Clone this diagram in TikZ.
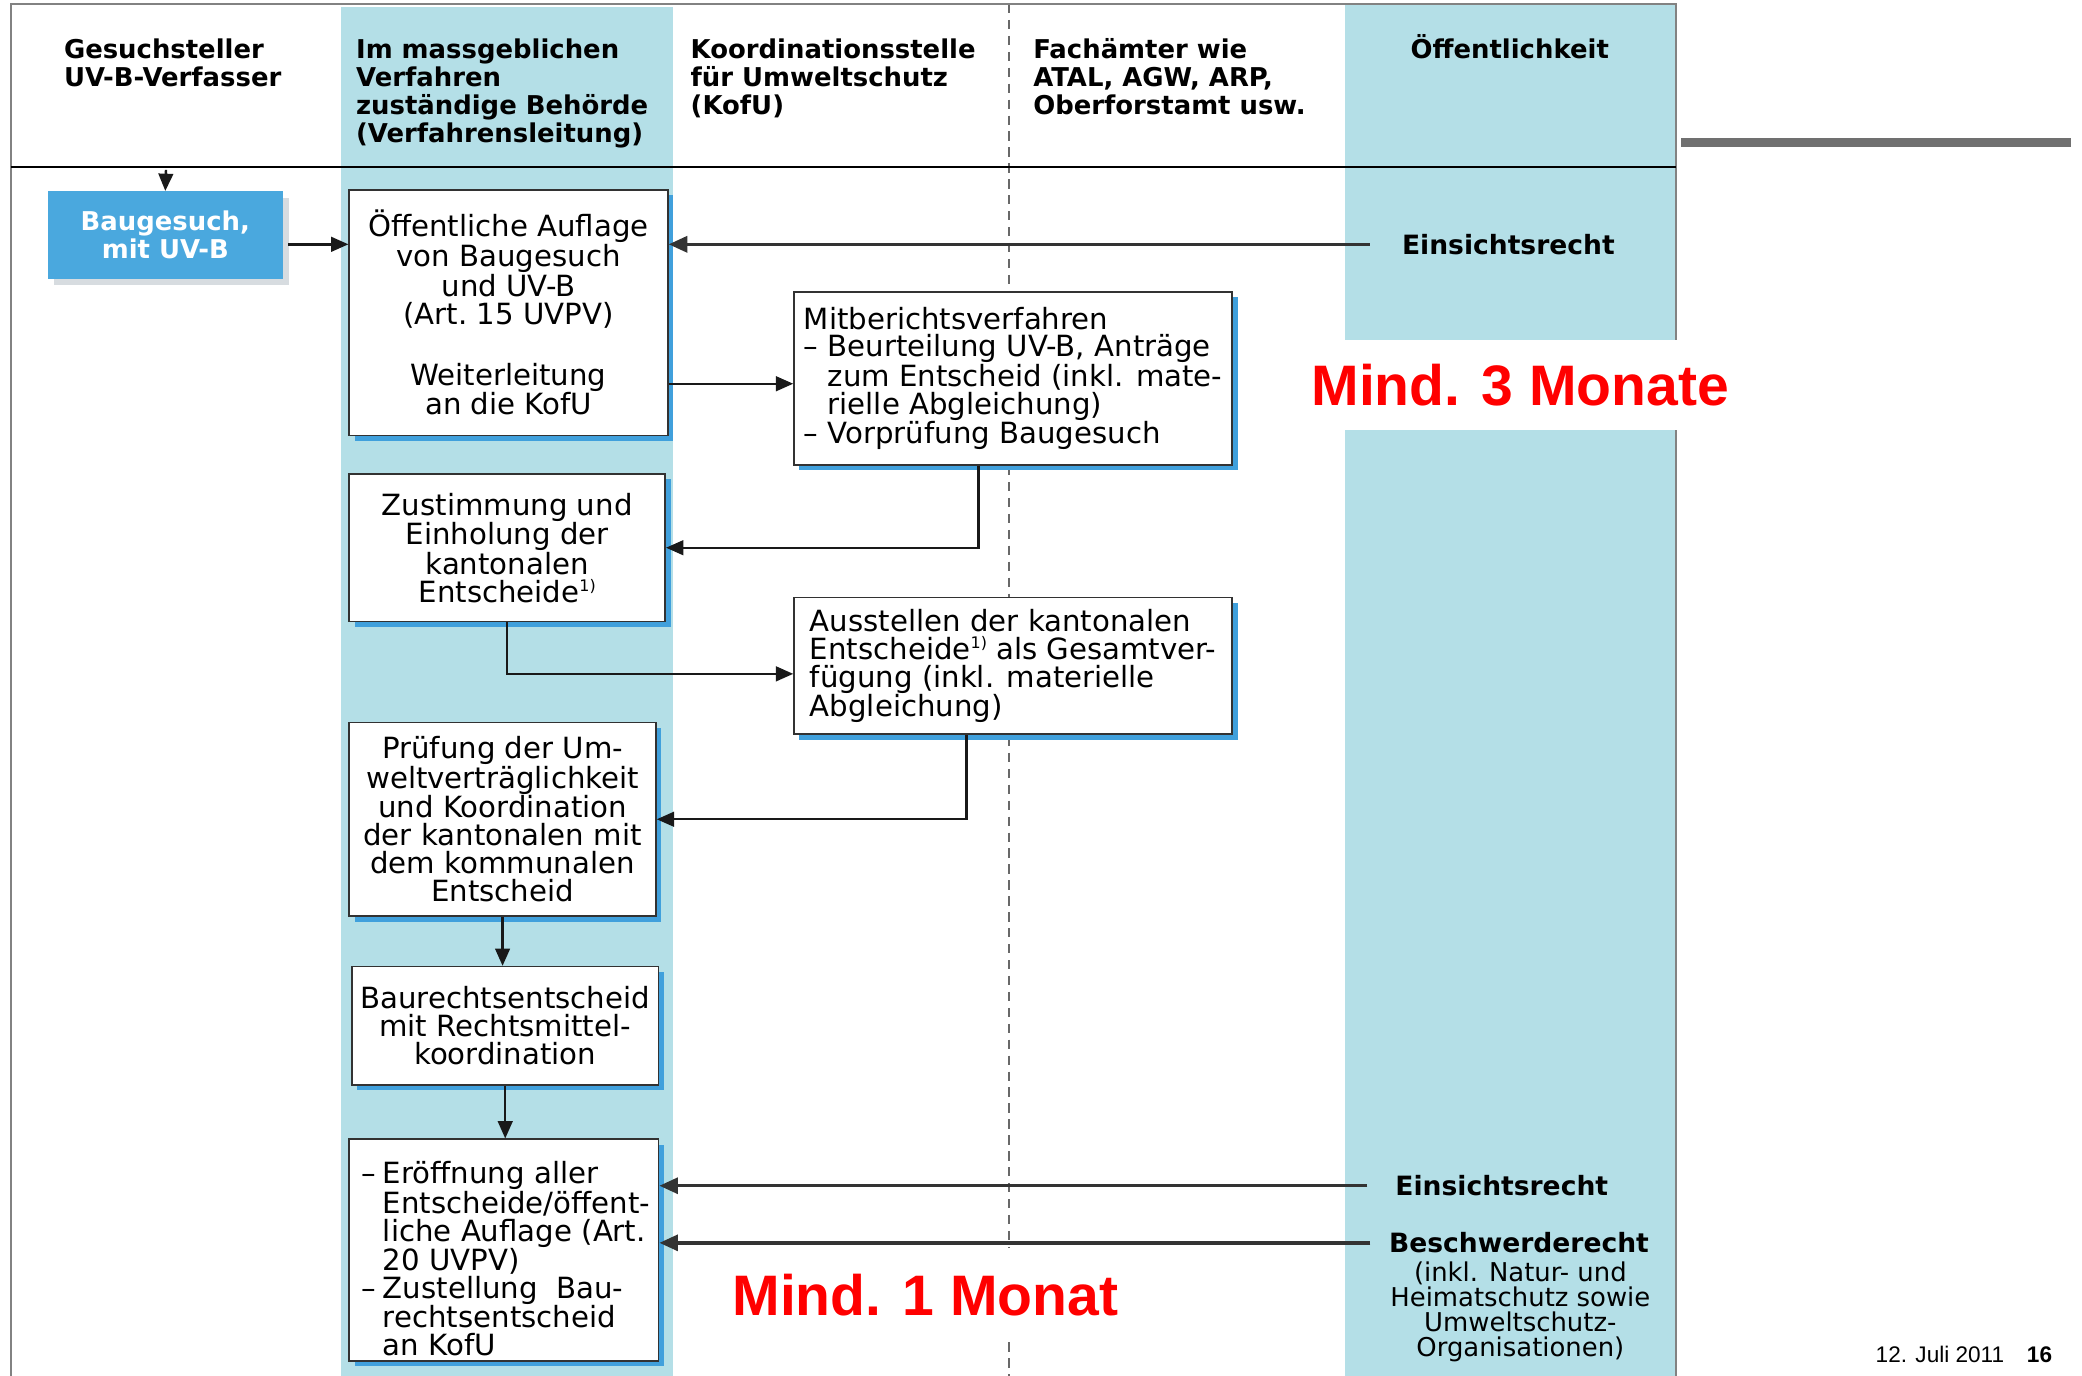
\documentclass[tikz,border=0pt]{standalone}
\usepackage{fontspec}
\setmainfont{DejaVu Sans}
\newfontfamily\arialf{Liberation Sans}
\usetikzlibrary{arrows.meta,shadows,calc}
\definecolor{colblue}{RGB}{180,223,231}
\definecolor{shblue}{RGB}{64,160,220}
\definecolor{bgblue}{RGB}{74,168,222}
\definecolor{framegray}{RGB}{130,130,130}
\definecolor{boxline}{RGB}{50,50,50}
\definecolor{barg}{RGB}{112,112,112}
\definecolor{mred}{RGB}{255,0,0}
\definecolor{lightsh}{RGB}{215,220,224}
\newcommand{\bodyfont}{\fontsize{22}{21}\selectfont}
\newcommand{\headfont}{\fontsize{19.5}{21}\selectfont\bfseries}
\newcommand{\supone}{\raisebox{8pt}{\fontsize{12}{12}\selectfont 1)}}
\tikzset{
 flowbox/.style={draw=boxline, line width=1.2pt, fill=white, font=\bodyfont, inner sep=0pt,
   drop shadow={shadow xshift=4pt, shadow yshift=-4pt, fill=shblue, opacity=1}},
 conn/.style={draw=black!90, line width=1.8pt, -{Triangle[length=13pt,width=11pt]}},
 rightline/.style={draw=black!80, line width=2.6pt, -{Triangle[length=14pt,width=12pt]}},
 headtext/.style={font=\headfont, align=left, inner sep=0pt, anchor=north west},
 redtext/.style={font=\arialf\fontsize{43}{43}\selectfont\bfseries, text=mred, fill=white, inner xsep=4pt},
 righttext/.style={font=\fontsize{20}{20}\selectfont\bfseries, inner sep=0pt}
}
\begin{document}
\begin{tikzpicture}[x=1pt,y=-1pt]
\useasboundingbox (0,0) rectangle (1568,1036);
\fill[white] (0,0) rectangle (1568,1036);
% columns
\fill[colblue] (257,5) rectangle (507,1036);
\fill[colblue] (1013,3) rectangle (1262,1036);
\draw[framegray!80!black, line width=1.2pt, dash pattern=on 7pt off 5pt] (760,3) -- (760,1036);
\draw[framegray, line width=1.5pt] (8,1036) -- (8,3) -- (1262,3) -- (1262,1036);
\draw[black, line width=1.6pt] (8,126) -- (1262,126);
\fill[barg] (1266,104) rectangle (1560,111);
% headers
\node[headtext] (h1) at (48,29) {Gesuchsteller\\UV-B-Verfasser};
\node[headtext] (h2) at (268,29) {Im massgeblichen\\Verfahren\\zuständige Behörde\\(Verfahrensleitung)};
\node[headtext] (h3) at (520,29) {Koordinationsstelle\\für Umweltschutz\\(KofU)};
\node[headtext] (h4) at (778,29) {Fachämter wie\\ATAL, AGW, ARP,\\Oberforstamt usw.};
\node[font=\headfont, inner sep=0pt, anchor=base] (h5) at (1137,44) {Öffentlichkeit};
% boxes
\node[draw=none, fill=bgblue, minimum width=177pt, minimum height=66pt, inner sep=0pt,
  text=white, font=\headfont, align=center,
  drop shadow={shadow xshift=5pt, shadow yshift=-5pt, fill=lightsh, opacity=1}] (BG) at (124.5,177) {Baugesuch,\\mit UV-B};
\node[flowbox, align=center, minimum width=240pt, minimum height=185pt] (A) at (383,235.5)
  {Öffentliche Auflage\\von Baugesuch\\und UV-B\\(Art.~15 UVPV)\\[25pt]Weiterleitung\\an die KofU};
\node[flowbox, align=left, minimum width=330pt, minimum height=130pt] (B) at (763,285)
  {Mitberichtsverfahren\\– Beurteilung UV-B, Anträge\\\phantom{– }zum Entscheid (inkl. mate-\\\phantom{– }rielle Abgleichung)\\– Vorprüfung Baugesuch};
\node[flowbox, align=center, minimum width=238pt, minimum height=111pt] (C) at (382,412.5)
  {Zustimmung und\\Einholung der\\kantonalen\\Entscheide\supone};
\node[flowbox, align=left, minimum width=330pt, minimum height=103pt] (D) at (763,501.5)
  {Ausstellen der kantonalen\\Entscheide\supone\ als Gesamtver-\\fügung (inkl. materielle\\Abgleichung)};
\node[flowbox, align=center, minimum width=231pt, minimum height=146pt] (E) at (378.5,617)
  {Prüfung der Um-\\weltverträglichkeit\\und Koordination\\der kantonalen mit\\dem kommunalen\\Entscheid};
\node[flowbox, align=center, minimum width=231pt, minimum height=89pt] (F) at (380.5,772.5)
  {Baurechtsentscheid\\mit Rechtsmittel-\\koordination};
\node[flowbox, minimum width=233pt, minimum height=167pt] (G) at (379.5,941.5) {};
\node[font=\fontsize{22}{20.8}\selectfont, align=left, inner sep=0pt] (Gt) at (381,948)
  {\makebox[16pt][l]{–}Eröffnung aller\\\hspace*{16pt}Entscheide/öffent-\\\hspace*{16pt}liche Auflage (Art.\\\hspace*{16pt}20 UVPV)\\\makebox[16pt][l]{–}Zustellung\ \ Bau-\\\hspace*{16pt}rechtsentscheid\\\hspace*{16pt}an KofU};
% right side texts
\node[righttext] (ein1) at (1136,184) {Einsichtsrecht};
\node[righttext] (ein2) at (1131,893) {Einsichtsrecht};
\node[righttext] (besch) at (1144,936) {Beschwerderecht};
\node[font=\fontsize{19.5}{19}\selectfont, align=center, inner sep=0pt] (beschsub) at (1145,988)
  {(inkl. Natur- und\\Heimatschutz sowie\\Umweltschutz-\\Organisationen)};
% connectors
\coordinate (s0) at (125,128);
\coordinate (bgout) at ($(BG.east)+(0,7)$);
\coordinate (din) at ($(D.west)+(0,6)$);
\coordinate (bin) at ($(B.west)+(0,4)$);
\draw[conn] (s0) -- (BG.north);
\draw[conn, shorten <=4pt] (bgout) -- (bgout -| A.west);
\draw[rightline, shorten <=24pt] (ein1.west) -- (ein1.west -| A.east);
\draw[conn] (A.east |- bin) -- (bin);
\draw[conn] ([xshift=-26pt]B.south) |- (C.east);
\draw[conn] (C.south) |- (din);
\draw[conn] ([xshift=-35pt]D.south) |- (E.east);
\draw[conn] (E.south) -- (E.south |- F.north);
\draw[conn] (F.south) -- (F.south |- G.north);
\draw[rightline, shorten <=21pt] (ein2.west) -- (ein2.west -| G.east);
\draw[rightline, shorten <=14pt] (besch.west) -- (besch.west -| G.east);
% red texts
\node[redtext, minimum height=68pt] (m3) at (1145,290) {Mind. 3 Monate};
\node[redtext, minimum height=70pt] (m1) at (697,975) {Mind. 1 Monat};
% footer
\node[font=\arialf\fontsize{17}{17}\selectfont, anchor=base, inner sep=0pt] (date) at (1461,1026) {12. Juli 2011};
\node[font=\arialf\fontsize{17}{17}\selectfont\bfseries, anchor=base, inner sep=0pt] (pg) at (1536,1026) {16};
\end{tikzpicture}
\end{document}
